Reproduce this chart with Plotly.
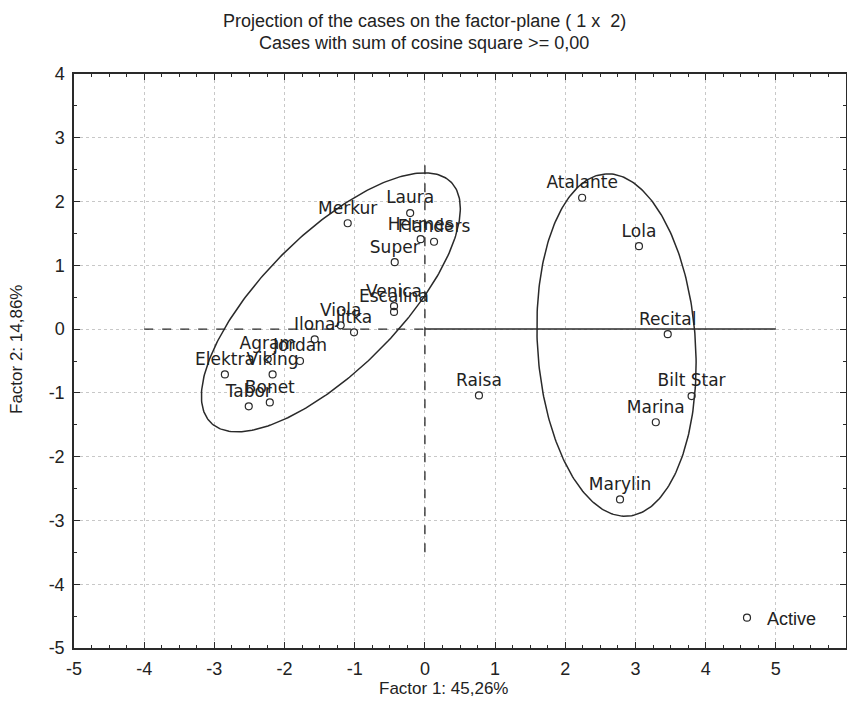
import numpy as np
import plotly.graph_objects as go

# ---- data ----
case_names = ["Atalante", "Lola", "Recital", "Bilt Star", "Marina", "Marylin", "Raisa",
              "Laura", "Merkur", "Hermes", "Flanders", "Super", "Venica", "Escalina",
              "Viola", "Jitka", "Ilona", "Jordan", "Agram", "Elektra", "Viking",
              "Tabor", "Bonet"]
factor1 = [2.24, 3.05, 3.46, 3.80, 3.29, 2.78, 0.77,
           -0.21, -1.10, -0.06, 0.13, -0.43, -0.44, -0.44,
           -1.20, -1.01, -1.57, -1.78, -2.24, -2.85, -2.17,
           -2.51, -2.21]
factor2 = [2.06, 1.30, -0.08, -1.05, -1.46, -2.67, -1.04,
           1.82, 1.66, 1.41, 1.37, 1.05, 0.36, 0.27,
           0.06, -0.05, -0.16, -0.50, -0.47, -0.71, -0.71,
           -1.21, -1.15]

x_ticks = [-5, -4, -3, -2, -1, 0, 1, 2, 3, 4, 5, 6]
y_ticks = [-5, -4, -3, -2, -1, 0, 1, 2, 3, 4]

title_lines = ["Projection of the cases on the factor-plane ( 1 x  2)",
               "Cases with sum of cosine square >= 0,00"]
x_title = "Factor 1: 45,26%"
y_title = "Factor 2: 14,86%"

# ellipses: center (data), semi-axes (px), rotation (deg)
ell_left = dict(cx=-1.34, cy=0.42, a=170, b=68, ang=45)
ell_right = dict(cx=2.73, cy=-0.25, a=171.5, b=79, ang=93.7)

# reference lines (data)
h_dash = ([-4, 0], [0, 0])
h_solid = ([0, 5], [0, 0])
v_dash = ([0, 0], [-3.5, 2.6])

W, H = 847, 714
ML, MR, MT, MB = 74, 1, 74, 66
XR = [-5, 6]
YR = [-5, 4]
PW, PH = W - ML - MR, H - MT - MB
sx = PW / (XR[1] - XR[0])
sy = PH / (YR[1] - YR[0])

def ellipse(e):
    t = np.linspace(0, 2 * np.pi, 300)
    th = np.radians(e["ang"])
    u = e["a"] * np.cos(t)
    v = e["b"] * np.sin(t)
    dx = u * np.cos(th) - v * np.sin(th)
    dy = u * np.sin(th) + v * np.cos(th)
    return e["cx"] + dx / sx, e["cy"] + dy / sy

FONT = "Liberation Sans, Arial, sans-serif"
LFONT = "DejaVu Sans, Liberation Sans, sans-serif"
LC = "#2a2a2a"
TC = "#222"

fig = go.Figure()

for e in (ell_left, ell_right):
    ex, ey = ellipse(e)
    fig.add_trace(go.Scatter(x=ex, y=ey, mode="lines", line=dict(color=LC, width=1.5),
                             showlegend=False, hoverinfo="skip"))

fig.add_trace(go.Scatter(x=h_dash[0], y=h_dash[1], mode="lines",
                         line=dict(color=LC, width=1.3, dash="dash"), showlegend=False))
fig.add_trace(go.Scatter(x=v_dash[0], y=v_dash[1], mode="lines",
                         line=dict(color=LC, width=1.3, dash="dash"), showlegend=False))
fig.add_trace(go.Scatter(x=h_solid[0], y=h_solid[1], mode="lines",
                         line=dict(color=LC, width=1.5), showlegend=False))

fig.add_trace(go.Scatter(
    x=factor1, y=factor2, mode="markers+text", text=case_names,
    textposition="top center",
    textfont=dict(family=LFONT, size=17, color=TC),
    marker=dict(symbol="circle-open", size=7, color=LC, line=dict(width=1.2)),
    name="Active", showlegend=True))

axis_common = dict(showline=True, linecolor=LC, linewidth=1.5, mirror="ticks",
                   ticks="inside", ticklen=6, tickcolor=LC,
                   showgrid=True, gridcolor="#c8c8c8", griddash="dot", gridwidth=1,
                   zeroline=False, automargin=False,
                   tickfont=dict(family=FONT, size=18, color=TC))

annotations = [
    dict(text=title_lines[0], xref="paper", yref="paper", x=(424 - ML) / PW, y=(H - MB - 21) / PH,
         showarrow=False, xanchor="center", yanchor="middle", font=dict(family=FONT, size=18, color=TC)),
    dict(text=title_lines[1], xref="paper", yref="paper", x=(424 - ML) / PW, y=(H - MB - 43) / PH,
         showarrow=False, xanchor="center", yanchor="middle", font=dict(family=FONT, size=18, color=TC)),
    dict(text=x_title, xref="paper", yref="paper", x=(443 - ML) / PW, y=(H - MB - 688) / PH,
         showarrow=False, xanchor="center", yanchor="middle", font=dict(family=FONT, size=17, color=TC)),
    dict(text=y_title, xref="paper", yref="paper", x=(16 - ML) / PW, y=(H - MB - 350) / PH,
         showarrow=False, xanchor="center", yanchor="middle", textangle=-90,
         font=dict(family=FONT, size=17, color=TC)),
]

fig.update_layout(
    width=W, height=H, template="none",
    margin=dict(l=ML, r=MR, t=MT, b=MB),
    paper_bgcolor="white", plot_bgcolor="white",
    xaxis=dict(range=XR, tickvals=x_ticks, ticktext=[str(v) for v in x_ticks],
               minor=dict(dtick=0.25, ticks="inside", ticklen=3, tickcolor=LC, showgrid=False),
               ticklabelstandoff=4,
               **axis_common),
    yaxis=dict(range=YR, tickvals=y_ticks, ticktext=[str(v) for v in y_ticks],
               minor=dict(dtick=0.5, ticks="inside", ticklen=3, tickcolor=LC, showgrid=False),
               ticklabelstandoff=4,
               **axis_common),
    legend=dict(x=(822 - ML) / PW, y=0.02, xanchor="right", yanchor="bottom", bgcolor="rgba(0,0,0,0)",
                font=dict(family=FONT, size=18, color=TC), itemwidth=30),
    showlegend=True,
    annotations=annotations,
)

fig.write_html("out.html")
